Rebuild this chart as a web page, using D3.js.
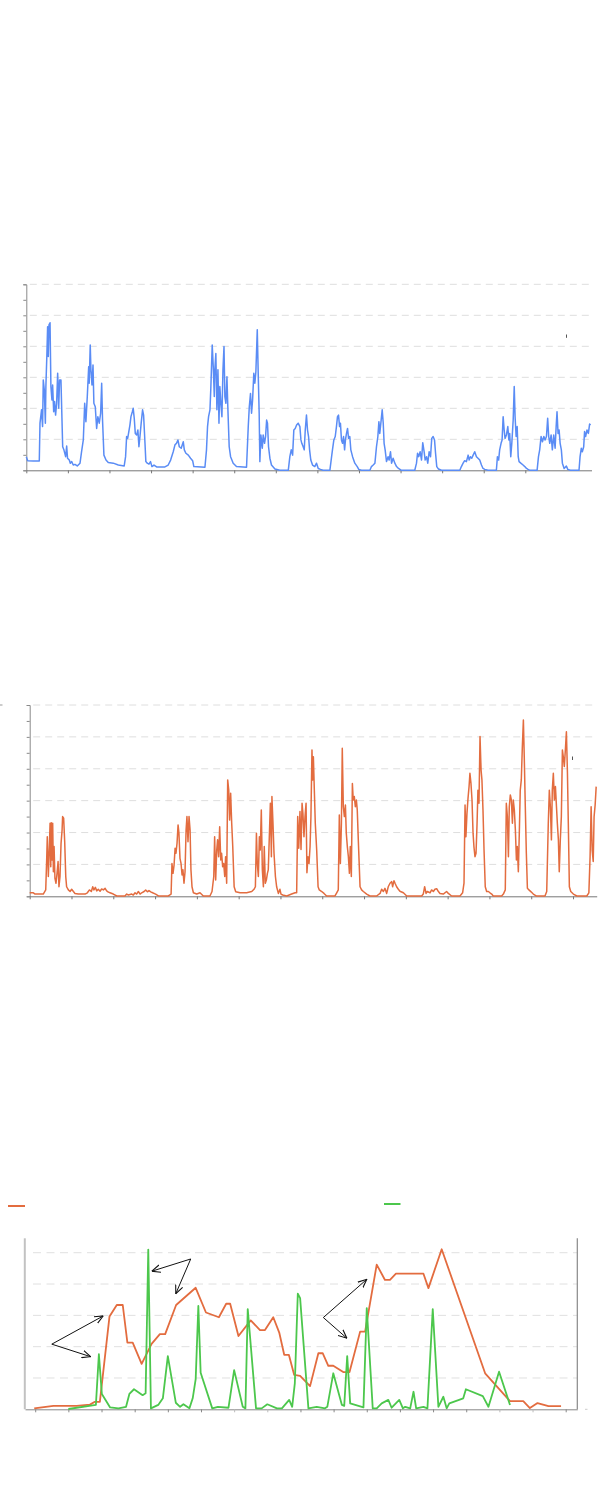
<!DOCTYPE html>
<html><head><meta charset="utf-8">
<script src="https://cdn.jsdelivr.net/npm/d3@7"></script>
<style>html,body{margin:0;padding:0;background:#fff}</style>
</head><body>
<svg id="c" width="600" height="1498"></svg>
<script>
// ---------- DATA ----------
// Panel 1: hours since start, value
const blueSeries = [[0,.44],[.8,.31],[4,.30],[7.5,.30],[7.9,1.52],[8.8,1.95],[9.4,1.41],[9.8,2.91],[10.4,2.59],[11,1.52],[11.3,2.70],[11.9,3.77],[12.3,4.63],[12.7,3.67],[13.1,4.69],[13.7,4.76],[14.2,2.70],[14.8,2.27],[15.2,2.75],[15.8,1.89],[16.3,2.22],[16.9,1.78],[17.5,2.16],[18.1,3.13],[18.7,2.00],[19.2,2.91],[20,2.91],[20.4,2.05],[21,.76],[21.7,.66],[22.7,.44],[23.3,.78],[23.8,.39],[24.8,.33],[25.4,.23],[26.2,.28],[27.1,.17],[28.1,.19],[29.4,.14],[31,.23],[31.9,.60],[32.9,.98],[33.7,2.16],[34.4,1.57],[35.2,2.38],[36,3.34],[36.3,2.81],[36.9,4.04],[37.3,3.24],[37.9,2.75],[38.5,3.40],[39,2.16],[39.8,2.05],[40.6,1.35],[41.3,1.73],[42.1,1.52],[42.9,1.84],[43.5,2.81],[44,1.62],[44.8,.49],[46,.33],[47.3,.25],[50.2,.23],[53.1,.17],[56.5,.14],[57.3,.44],[57.9,1.09],[58.5,1.03],[59,1.19],[59.8,1.46],[60.4,1.73],[61.2,1.89],[61.7,2.00],[62.3,1.68],[62.9,1.19],[63.7,1.14],[64.4,1.30],[65,.76],[65.6,1.09],[66.3,1.52],[67.1,1.95],[67.7,1.78],[68.5,.87],[69,.28],[69.8,.23],[70.8,.20],[71.7,.28],[72.5,.12],[73.7,.17],[75.2,.11],[80,.11],[81.9,.17],[83.3,.33],[84.8,.60],[85.8,.82],[86.7,.87],[87.5,.98],[88.3,.76],[89.4,.71],[90.6,.92],[91.2,.66],[92.1,.55],[93.5,.49],[94.8,.39],[96,.31],[96.7,.12],[103.1,.10],[104,.66],[104.6,1.41],[105.2,1.73],[106,1.95],[106.5,2.65],[107.3,4.04],[107.9,3.34],[108.5,2.38],[108.8,3.24],[109.4,3.77],[110,1.95],[110.6,3.24],[111.2,1.52],[111.7,2.70],[112.3,2.16],[112.9,1.73],[113.5,3.24],[114.1,3.99],[114.6,2.38],[115.2,2.16],[115.8,3.02],[116.3,2.05],[117.1,.76],[117.9,.44],[119.4,.23],[121.3,.12],[127.1,.10],[128.1,1.41],[128.7,2.05],[129.4,2.48],[130,1.84],[130.6,2.27],[131.3,3.13],[131.9,2.81],[132.5,3.18],[133.3,4.53],[133.8,3.24],[134.4,1.84],[134.8,.28],[135.4,1.14],[136.2,.71],[136.7,1.14],[137.5,.87],[138.1,1.09],[138.7,1.62],[139.2,1.52],[139.8,.76],[140.6,.39],[141.5,.17],[143.5,.04],[146.3,0],[151.2,0],[152.1,.44],[152.9,.66],[153.7,.49],[154.4,1.30],[155.2,1.35],[156,1.46],[156.9,1.52],[157.9,1.41],[158.5,.98],[159,.87],[159.8,.76],[160.4,.66],[161,1.30],[161.7,1.78],[162.3,1.30],[162.9,1.09],[163.5,.66],[164.2,.33],[165.2,.17],[166.5,.12],[167.5,.23],[168.5,.06],[169.8,.03],[171.3,0],[175.2,0],[176.2,.44],[176.7,.66],[177.5,.98],[178.3,1.09],[179,1.41],[179.6,1.73],[180.2,1.78],[180.8,1.41],[181.3,1.52],[181.9,.98],[182.5,.87],[183.1,1.09],[183.7,.66],[184.2,.98],[184.8,1.19],[185.4,1.35],[186,1.03],[186.7,1.09],[187.3,.66],[188.3,.44],[189.6,.23],[191,.12],[191.9,.03],[193.5,0],[198.3,0],[199.2,.12],[200.2,.17],[201.2,.23],[202.1,.76],[202.9,1.09],[203.5,1.57],[204,1.19],[204.8,1.62],[205.4,1.95],[206,1.52],[206.5,.87],[207.1,.66],[207.9,.28],[208.8,.44],[209.4,.33],[210.2,.60],[210.8,.23],[211.7,.39],[212.7,.23],[213.7,.12],[214.8,.06],[216.5,0],[224.2,0],[225.2,.23],[225.8,.55],[226.5,.44],[227.3,.60],[228.1,.33],[228.8,.89],[229.6,.60],[230.2,.33],[231,.44],[231.7,.23],[232.5,.60],[233.3,.44],[234,1.03],[234.8,1.09],[235.6,.98],[236.2,.55],[236.9,.12],[237.9,.04],[239.6,0],[250.2,0],[251.1,.12],[252.1,.23],[253,.31],[254,.28],[255,.49],[255.6,.33],[256.3,.44],[257.1,.39],[257.9,.49],[258.8,.60],[259.8,.44],[260.7,.39],[261.7,.33],[262.7,.17],[263.6,.06],[264.6,.03],[266.5,0],[271.3,0],[271.9,.44],[272.6,.33],[273.2,.66],[274,.87],[274.6,.98],[275.2,1.73],[275.8,1.30],[276.3,1.03],[277.1,1.14],[277.9,1.41],[278.5,.98],[279,1.19],[279.6,.44],[280.2,.87],[281,1.62],[281.6,2.70],[282.1,1.73],[282.7,1.09],[283.3,1.41],[283.9,.44],[284.4,.28],[285.4,.23],[286.7,.17],[287.7,.12],[288.7,.06],[289.6,.03],[290.6,0],[294.8,0],[295.6,.44],[296.3,.66],[297.1,1.09],[297.9,.92],[298.7,1.09],[299.4,.98],[300.2,1.09],[300.9,1.68],[301.5,1.09],[302.1,.87],[302.9,1.14],[303.6,.66],[304.4,1.14],[305.2,.71],[305.8,1.41],[306.3,1.89],[306.9,1.19],[307.5,1.30],[308.1,.87],[308.8,.66],[309.4,.23],[310.4,.06],[311.7,.14],[312.5,.03],[314,0],[319,0],[319.6,.44],[320.3,.71],[320.9,.60],[321.7,.76],[322.2,1.25],[322.8,1.09],[323.6,1.30],[324.4,1.19],[325.1,1.49],[325.7,1.46]];

// Panel 2: hours since start, value
const orangeSeries = [[0,.11],[2.1,.11],[3.1,.07],[7.8,.07],[9.2,.20],[9.8,1.24],[10.1,1.87],[10.7,.62],[11.3,1.56],[11.7,2.29],[12.1,.93],[12.4,2.31],[12.8,1.14],[13.2,2.29],[13.6,.77],[14,1.56],[14.5,.56],[15.1,.41],[15.7,.72],[16.3,1.09],[16.8,.30],[17.4,.62],[18,1.66],[18.6,2.08],[18.9,2.50],[19.5,2.45],[20.1,1.71],[20.7,.62],[21.2,.30],[22.2,.20],[23.2,.15],[24.1,.22],[25.1,.15],[26,.09],[27.9,.07],[31.8,.07],[33.1,.11],[34.3,.20],[35.4,.15],[36.2,.30],[36.9,.20],[37.7,.28],[38.5,.17],[39.4,.22],[40.4,.16],[41.3,.23],[42.3,.20],[43.3,.25],[44.2,.17],[45.2,.13],[46.1,.11],[48,.07],[50,.01],[54.7,.01],[55.7,.07],[56.7,.04],[58.6,.07],[59.5,.04],[60.5,.11],[61.4,.07],[62.4,.15],[63.4,.07],[64.3,.11],[65.7,.15],[66.6,.20],[67.6,.14],[68.5,.18],[69.5,.14],[70.6,.11],[72.3,.07],[73.9,.01],[79.6,.01],[81.2,.07],[81.7,1.03],[82.3,.72],[82.9,.98],[83.5,1.51],[84,1.35],[84.6,1.66],[85.2,2.24],[85.7,1.98],[86.3,1.19],[86.9,1.03],[87.5,.67],[88,.83],[88.6,.41],[89.2,.77],[89.8,2.08],[90.3,2.50],[90.9,1.71],[91.5,2.50],[92.1,2.08],[92.6,.83],[93.2,.30],[94,.11],[95.9,.07],[97.8,.11],[99.7,.01],[103.5,.01],[104.7,.15],[105.7,.62],[106.2,1.87],[106.8,.51],[107.4,1.45],[107.9,1.77],[108.5,1.24],[109.1,2.18],[109.7,1.14],[110.2,1.35],[110.8,.93],[111.4,1.03],[112,.62],[112.5,1.24],[113.1,.41],[113.7,3.65],[114.3,3.33],[114.8,2.39],[115.4,3.23],[116,2.29],[116.6,1.56],[117.4,.30],[118.3,.14],[120.8,.11],[124.6,.11],[127.5,.15],[128.8,.22],[129.6,.30],[130.2,1.98],[130.7,1.03],[131.3,.62],[131.9,1.87],[132.4,1.45],[133,2.71],[133.6,.83],[134.2,.30],[134.7,1.56],[135.3,.41],[135.9,.51],[136.5,.72],[137,.83],[137.6,1.87],[138.2,2.92],[138.8,1.24],[139.1,3.13],[139.7,2.29],[140.3,1.35],[141.1,.62],[141.8,.30],[142.8,.09],[143.7,.22],[144.3,.07],[145.3,.04],[147.6,.01],[150.4,.07],[152.4,.11],[153.3,.11],[153.9,2.50],[154.5,1.51],[155.2,2.66],[155.8,1.47],[156.4,2.92],[156.9,2.60],[157.5,1.87],[158.1,2.50],[158.7,2.92],[159.2,.74],[159.8,1.24],[160.4,1.03],[161,1.56],[161.5,2.50],[162.1,4.59],[162.5,3.65],[162.9,4.38],[163.5,3.23],[164,2.29],[164.8,1.45],[165.6,.30],[166.3,.20],[167.7,.15],[169,.09],[170.5,.01],[175.3,.01],[176.3,.11],[177.2,.20],[177.8,2.55],[178.4,1.03],[179,2.29],[179.5,4.64],[180.1,2.81],[180.7,2.50],[181.3,2.86],[181.8,1.98],[182.4,1.56],[183,1.24],[183.6,.72],[184.1,1.56],[184.7,.62],[185.3,3.54],[185.8,3.02],[186.4,3.13],[187,2.81],[187.6,3.02],[188.1,2.71],[188.7,1.77],[189.7,.30],[190.6,.20],[191.6,.15],[193.5,.07],[195.4,.01],[199.2,.01],[201.2,.09],[202.1,.22],[203.1,.15],[204,.25],[205,.09],[205.9,.30],[206.9,.41],[207.9,.46],[208.4,.30],[209.2,.49],[209.8,.41],[210.7,.30],[211.7,.22],[212.6,.16],[214.6,.11],[216.5,.01],[225.1,.01],[226,.07],[226.8,.30],[227.6,.09],[228.3,.15],[229.9,.11],[230.8,.20],[231.8,.15],[232.7,.22],[233.7,.24],[234.7,.15],[235.6,.09],[237.5,.07],[239.4,.15],[240.4,.09],[242.3,.01],[247.1,.01],[248.6,.11],[249.4,.41],[250,2.86],[250.5,1.87],[251.1,2.60],[251.7,3.07],[252.3,3.44],[252.8,3.86],[253.4,3.54],[254,3.02],[254.6,1.98],[255.1,1.56],[255.7,1.24],[256.3,1.35],[256.9,2.29],[257.4,3.33],[258,2.92],[258.6,5.01],[259.2,3.96],[259.7,3.65],[260.3,2.71],[260.9,1.45],[261.6,.30],[262.4,.15],[263.4,.15],[264.3,.11],[265.3,.07],[266.2,.01],[271,.01],[272,.07],[273.1,.20],[273.7,2.92],[274.3,2.50],[274.9,1.24],[275.4,2.81],[276,3.18],[276.6,3.02],[277.2,2.29],[277.7,3.02],[278.3,2.71],[278.9,2.08],[279.5,1.14],[280,1.56],[280.6,.77],[281.2,2.08],[281.7,3.33],[282.3,3.65],[282.9,4.69],[283.5,5.53],[284,4.38],[284.6,2.81],[285.2,1.35],[285.8,.25],[286.7,.20],[287.9,.14],[289.2,.07],[290.8,.01],[295.9,.01],[296.9,.15],[297.8,2.29],[298.4,3.33],[299,2.81],[299.6,1.77],[300.1,3.33],[300.7,3.86],[301.3,3.02],[301.9,3.44],[302.5,2.81],[303,2.29],[303.6,1.77],[304.1,.77],[304.7,1.77],[305.3,2.50],[305.9,4.59],[306.4,4.38],[307,4.07],[307.6,4.59],[308.2,5.16],[308.8,3.86],[309.3,2.29],[309.9,.30],[310.7,.15],[312.2,.07],[314.2,.01],[319.9,.01],[321.1,.11],[321.8,1.24],[322.4,2.81],[323,1.45],[323.6,1.09],[324.1,2.50],[324.7,2.86],[325.3,3.44]];

// Panel 3: x position (tick units), value
const p3OrangeSeries = [[-.03,.03],[.55,.11],[1.25,.11],[1.65,.15],[1.80,.24],[1.95,.24],[2.24,2.96],[2.46,3.33],[2.64,3.33],[2.78,2.13],[2.94,2.13],[3.21,1.45],[3.51,2.09],[3.76,2.40],[3.92,2.40],[4.25,3.33],[4.84,3.88],[5.15,3.09],[5.54,2.94],[5.76,3.37],[5.88,3.37],[6.13,2.34],[6.50,2.84],[6.78,2.53],[6.93,2.53],[7.18,2.94],[7.36,2.45],[7.51,1.74],[7.65,1.74],[7.81,1.10],[7.99,1.07],[8.29,.74],[8.54,1.79],[8.67,1.79],[8.84,1.39],[8.99,1.39],[9.29,1.19],[9.48,1.19],[9.80,2.48],[9.95,2.48],[10.30,4.62],[10.55,4.13],[10.70,4.13],[10.88,4.33],[11.71,4.33],[11.86,3.87],[12.26,5.11],[13.57,1.15],[14.32,.26],[14.72,.26],[14.92,.04],[15.15,.20],[15.48,.10],[15.86,.10]];
const p3GreenSeries = [[1.00,.01],[1.83,.14],[1.92,1.76],[2.01,.49],[2.26,.06],[2.51,.03],[2.74,.08],[2.84,.49],[2.98,.64],[3.24,.45],[3.33,.51],[3.41,5.10],[3.49,.03],[3.71,.14],[3.85,.35],[4.00,1.70],[4.24,.21],[4.37,.08],[4.47,.16],[4.65,.03],[4.75,.35],[4.84,.96],[4.92,3.30],[4.99,1.17],[5.34,.03],[5.51,.08],[5.83,.05],[6.00,1.25],[6.26,.08],[6.34,.03],[6.41,3.20],[6.66,.03],[6.83,.03],[7.00,.16],[7.29,.03],[7.44,.03],[7.66,.30],[7.75,.08],[7.83,.83],[7.92,3.69],[7.99,3.55],[8.24,.03],[8.49,.08],[8.74,.03],[8.81,.08],[8.99,1.15],[9.25,.14],[9.32,.11],[9.41,1.70],[9.50,.19],[9.90,.06],[10.00,3.23],[10.18,.03],[10.30,.03],[10.45,.19],[10.65,.30],[10.75,.05],[10.98,.30],[11.09,.03],[11.16,.08],[11.31,.03],[11.41,.56],[11.49,.03],[11.71,.08],[11.83,.03],[11.99,3.20],[12.16,.08],[12.31,.40],[12.41,.03],[12.49,.19],[12.91,.35],[12.99,.64],[13.50,.42],[13.67,.08],[13.99,1.20],[14.32,.14]];
const p3Annotations = [
  {from:[0.50,2.08], to:[[2.05,2.98],[1.67,1.68]]},
  {from:[4.69,4.80], to:[[3.52,4.41],[4.24,3.69]]},
  {from:[8.69,2.93], to:[[10.00,4.15],[9.40,2.27]]}
];
const gridLevels6 = [1,2,3,4,5,6];
const gridLevels5 = [1,2,3,4,5];
const halfSteps = d3.range(0, 6.01, 0.5);
const dayTicks1 = d3.range(0, 289, 24);
const dayTicks2 = d3.range(0, 313, 24);
const p3Ticks = d3.range(0, 17);
const p3LightTicks = [6,7,14,15];

// ---------- DRAW ----------
const svg = d3.select('#c');
const BLUE = '#5a8cf5', ORANGE = '#e36c3f', GREEN = '#4cc74c';

function timePanel(o){
  const x = d3.scaleLinear().domain([0,o.xMax]).range([o.x0,o.x1]);
  const y = d3.scaleLinear().domain([0,6]).range([o.yBot,o.yTop]);
  const g = svg.append('g');
  g.selectAll('line.grid').data(gridLevels6).join('line')
    .attr('x1', o.x0+3.5).attr('x2', o.x1)
    .attr('y1', d=>y(d)).attr('y2', d=>y(d))
    .attr('stroke','#dedede').attr('stroke-width',1).attr('stroke-dasharray','7,5');
  const ya = d3.axisLeft(y).tickValues(halfSteps).tickSize(3).tickFormat('');
  g.append('g').attr('transform',`translate(${o.x0},0)`).call(ya)
    .call(s=>s.selectAll('path,line').attr('stroke','#8a8a8a'));
  const xa = d3.axisBottom(x).tickValues(o.ticks).tickSize(3).tickSizeOuter(0).tickFormat('');
  g.append('g').attr('transform',`translate(0,${o.yBot})`).call(xa)
    .call(s=>s.selectAll('path,line').attr('stroke','#777'));
  const line = d3.line().x(d=>x(d[0])).y(d=>y(d[1]));
  g.append('path').datum(o.data).attr('d',line)
    .attr('fill','none').attr('stroke',o.color).attr('stroke-width',1.5)
    .attr('stroke-linejoin','round');
  return {x,y};
}

timePanel({data:blueSeries, color:BLUE, x0:26.3, x1:591.5, yTop:284.3, yBot:470.3, xMax:326.2, ticks:dayTicks1});
svg.append('line').attr('x1',566.5).attr('x2',566.5).attr('y1',334.5).attr('y2',337.8).attr('stroke','#555');

timePanel({data:orangeSeries, color:ORANGE, x0:29.7, x1:596.7, yTop:705, yBot:896.3, xMax:325.6, ticks:dayTicks2});
svg.append('line').attr('x1',572.5).attr('x2',572.5).attr('y1',756.5).attr('y2',760).attr('stroke','#555');
svg.append('line').attr('x1',0).attr('x2',2.5).attr('y1',705).attr('y2',705).attr('stroke','#999');

// Panel 3
(function(){
  const x = d3.scaleLinear().domain([-0.308,16.35]).range([25,577.3]);
  const y = d3.scaleLinear().domain([0,5.46]).range([1409.3,1238.3]);
  const g = svg.append('g');
  g.selectAll('line.grid').data(gridLevels5).join('line')
    .attr('x1', 33).attr('x2', 577)
    .attr('y1', d=>y(d)).attr('y2', d=>y(d))
    .attr('stroke','#e0e0e0').attr('stroke-width',1).attr('stroke-dasharray','8,5.5');
  const xa = d3.axisBottom(x).tickValues(p3Ticks).tickSize(3).tickSizeOuter(0).tickFormat('');
  g.append('g').attr('transform','translate(0,1409.3)').call(xa)
    .call(s=>s.select('path').attr('stroke','#888'))
    .call(s=>s.selectAll('.tick line').attr('stroke',d=>p3LightTicks.includes(d)?'#bbb':'#888'));
  g.append('line').attr('x1',24.8).attr('x2',24.8).attr('y1',y.range()[1]).attr('y2',y.range()[0])
    .attr('stroke','#c2c2c2').attr('stroke-width',2);
  g.append('line').attr('x1',577.3).attr('x2',577.3).attr('y1',y.range()[1]).attr('y2',y.range()[0])
    .attr('stroke','#888').attr('stroke-width',1.2);
  g.append('line').attr('x1',585).attr('x2',587.5).attr('y1',1409.3).attr('y2',1409.3).attr('stroke','#ccc');

  const line = d3.line().x(d=>x(d[0])).y(d=>y(d[1]));
  g.append('path').datum(p3OrangeSeries).attr('d',line).attr('fill','none')
    .attr('stroke',ORANGE).attr('stroke-width',1.8).attr('stroke-linejoin','round');
  g.append('path').datum(p3GreenSeries).attr('d',line).attr('fill','none')
    .attr('stroke',GREEN).attr('stroke-width',1.8).attr('stroke-linejoin','round');

  const defs = svg.append('defs');
  defs.append('marker').attr('id','arr').attr('viewBox','0 0 10 10').attr('refX',9.5).attr('refY',5)
    .attr('markerWidth',9).attr('markerHeight',9).attr('markerUnits','userSpaceOnUse').attr('orient','auto')
    .append('path').attr('d','M0,0.8L9.5,5L0,9.2').attr('fill','none').attr('stroke','#111').attr('stroke-width',1.2);
  p3Annotations.forEach(a=>{
    a.to.forEach(t=>{
      g.append('line').attr('x1',x(a.from[0])).attr('y1',y(a.from[1]))
        .attr('x2',x(t[0])).attr('y2',y(t[1]))
        .attr('stroke','#111').attr('stroke-width',1).attr('marker-end','url(#arr)');
    });
  });
  svg.append('line').attr('x1',8).attr('x2',25).attr('y1',1206).attr('y2',1206).attr('stroke',ORANGE).attr('stroke-width',2);
  svg.append('line').attr('x1',384).attr('x2',400.5).attr('y1',1204).attr('y2',1204).attr('stroke',GREEN).attr('stroke-width',2);
})();
</script>
</body></html>
